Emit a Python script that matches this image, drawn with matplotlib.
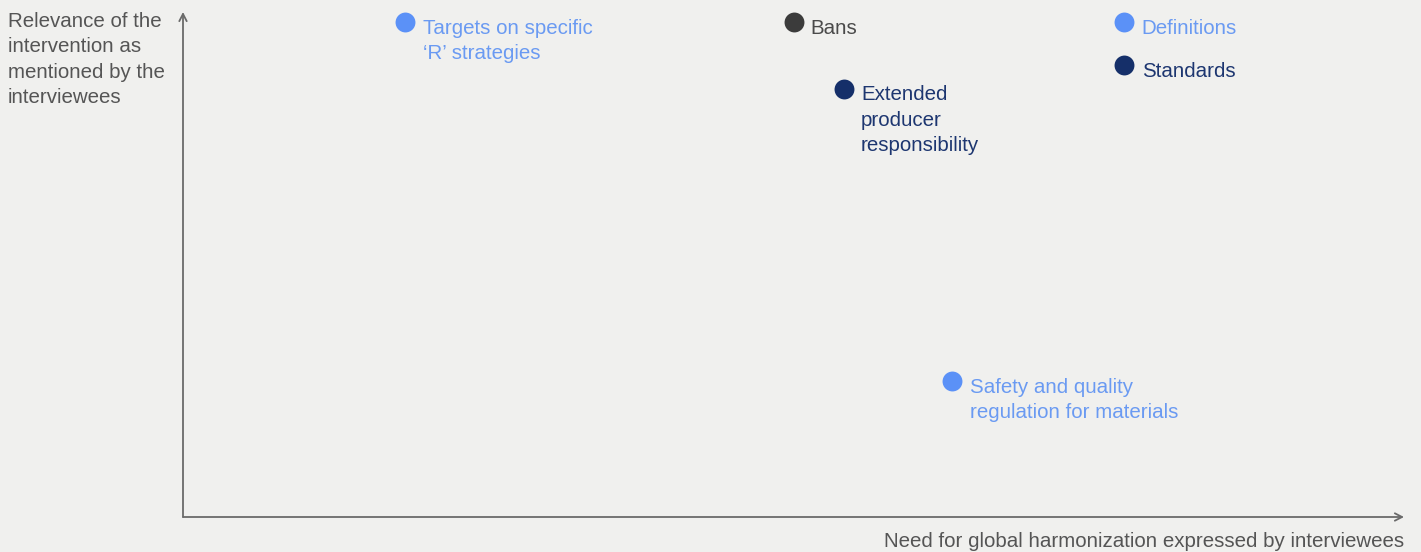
"""
Positioning chart: relevance of policy interventions vs. need for global
harmonization, as mentioned by interviewees.
"""
import matplotlib
matplotlib.use("Agg")
import matplotlib.pyplot as plt

# ---------------------------------------------------------------------------
# Data
# ---------------------------------------------------------------------------

labels = [
    "Targets on specific\n\u2018R\u2019 strategies",
    "Bans",
    "Definitions",
    "Standards",
    "Extended\nproducer\nresponsibility",
    "Safety and quality\nregulation for materials",
]
harmonization = [18.2, 50.0, 77.1, 77.1, 54.1, 63.0]
relevance = [98.0, 98.0, 98.0, 89.5, 84.8, 26.9]
group = ["light", "grey", "light", "navy", "navy", "light"]

# ---------------------------------------------------------------------------
# Style
# ---------------------------------------------------------------------------

BG = "#f0f0ee"
DOT = {"light": "#5b91f7", "grey": "#3b3b3b", "navy": "#152f69"}
TXT = {"light": "#6a9af2", "grey": "#4a4a4a", "navy": "#1d3670"}
AXIS = "#6a6a6a"
LSP = 1.43

plt.rcParams.update({
    "font.family": ["Liberation Sans", "DejaVu Sans"],
    "font.size": 14.8,
})

fig = plt.figure(figsize=(14.21, 5.52), dpi=100, facecolor=BG)
ax = fig.add_axes([183 / 1421, 35 / 552, 1221 / 1421, 505 / 552])
ax.set_facecolor(BG)
ax.set_xlim(0, 100)
ax.set_ylim(0, 100)
for s in ax.spines.values():
    s.set_visible(False)
ax.set_xticks([])
ax.set_yticks([])

# Axes drawn as arrows
arrow = dict(arrowstyle="->,head_length=0.35,head_width=0.18",
             color=AXIS, lw=1.3, shrinkA=0, shrinkB=0)
ax.annotate("", xy=(0, 1), xytext=(0, 0), xycoords="axes fraction",
            arrowprops=arrow, annotation_clip=False)
ax.annotate("", xy=(1, 0), xytext=(0, 0), xycoords="axes fraction",
            arrowprops=arrow, annotation_clip=False)

# Points + labels
for lab, x, y, g in zip(labels, harmonization, relevance, group):
    ax.scatter(x, y, s=205, color=DOT[g], zorder=3, linewidths=0,
               clip_on=False)
    ax.annotate(lab, (x, y), xytext=(12.5, 2.4), textcoords="offset points",
                ha="left", va="top", color=TXT[g], linespacing=LSP,
                annotation_clip=False)

# Axis titles
fig.text(8 / 1421, 1 - 12 / 552,
         "Relevance of the\nintervention as\nmentioned by the\ninterviewees",
         ha="left", va="top", color="#555555", linespacing=LSP)
fig.text(1404 / 1421, 5 / 552,
         "Need for global harmonization expressed by interviewees",
         ha="right", va="baseline", color="#555555")

fig.savefig("out.png", dpi=100, facecolor=BG)
